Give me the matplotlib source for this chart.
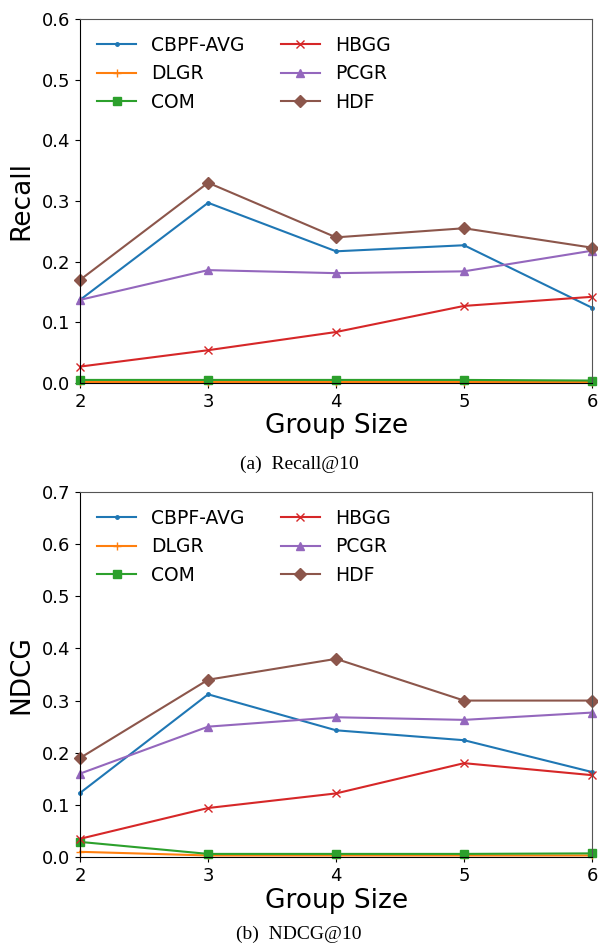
import numpy as np
import matplotlib.pyplot as plt

group_size = [2, 3, 4, 5, 6]
methods = ['CBPF-AVG', 'DLGR', 'COM', 'HBGG', 'PCGR', 'HDF']
markers = ['.', '+', 's', 'x', '^', 'D']
colors = ['#1f77b4', '#ff7f0e', '#2ca02c', '#d62728', '#9467bd', '#8c564b']

# Recall@10
recall_cbpf = [0.137, 0.297, 0.217, 0.227, 0.124]
recall_dlgr = [0.002, 0.002, 0.002, 0.002, 0.002]
recall_com = [0.005, 0.005, 0.005, 0.005, 0.004]
recall_hbgg = [0.027, 0.054, 0.084, 0.127, 0.142]
recall_pcgr = [0.137, 0.186, 0.181, 0.184, 0.218]
recall_hdf = [0.170, 0.330, 0.240, 0.255, 0.223]

# NDCG@10
ndcg_cbpf = [0.123, 0.312, 0.243, 0.224, 0.163]
ndcg_dlgr = [0.010, 0.003, 0.003, 0.003, 0.003]
ndcg_com = [0.029, 0.006, 0.006, 0.006, 0.007]
ndcg_hbgg = [0.035, 0.094, 0.122, 0.180, 0.157]
ndcg_pcgr = [0.160, 0.250, 0.268, 0.263, 0.277]
ndcg_hdf = [0.190, 0.340, 0.380, 0.300, 0.300]

recall = [recall_cbpf, recall_dlgr, recall_com, recall_hbgg, recall_pcgr, recall_hdf]
ndcg = [ndcg_cbpf, ndcg_dlgr, ndcg_com, ndcg_hbgg, ndcg_pcgr, ndcg_hdf]

fig = plt.figure(figsize=(5.98, 9.47), dpi=100)
ax1 = fig.add_axes([0.134, 0.5956, 0.856, 0.3844])
ax2 = fig.add_axes([0.134, 0.095, 0.856, 0.3855])


def draw(ax, data, ylabel, ymax):
    for vals, name, m, c in zip(data, methods, markers, colors):
        ms = 5 if m == '.' else 6
        ax.plot(group_size, vals, marker=m, color=c, label=name, markersize=ms,
                linewidth=1.5, clip_on=False)
    ax.set_xlim(2, 6)
    ax.set_ylim(0, ymax)
    ax.set_xticks(group_size)
    ax.set_yticks(np.arange(0, ymax + 0.01, 0.1))
    ax.tick_params(labelsize=13)
    ax.set_xlabel('Group Size', fontsize=19, labelpad=2)
    ax.set_ylabel(ylabel, fontsize=19)
    ax.spines['top'].set_color('#555555')
    ax.spines['right'].set_color('#555555')
    ax.legend(loc='upper left', ncol=2, frameon=False, fontsize=13.5,
              columnspacing=1.9, handlelength=2.1, borderaxespad=0.5)


draw(ax1, recall, 'Recall', 0.6)
draw(ax2, ndcg, 'NDCG', 0.7)
ax1.yaxis.set_label_coords(-0.09, 0.5)
ax2.yaxis.set_label_coords(-0.09, 0.5)

fig.text(0.5, 1 - 464 / 947, '(a)  Recall@10', ha='center', va='center',
         fontsize=14, family='Liberation Serif')
fig.text(0.5, 1 - 934 / 947, '(b)  NDCG@10', ha='center', va='center',
         fontsize=14, family='Liberation Serif')

fig.savefig('out.png', dpi=100)
